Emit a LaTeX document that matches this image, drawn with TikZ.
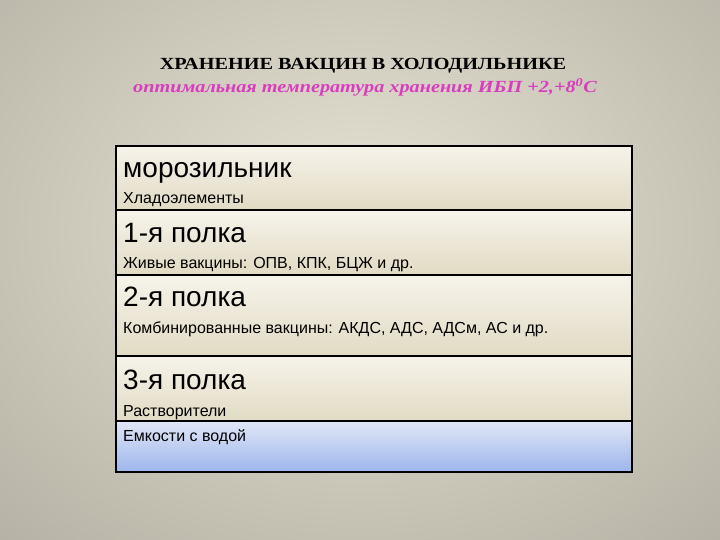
\documentclass[tikz,border=0pt]{standalone}
\usepackage{fontspec}
\setmainfont{Liberation Sans}
\newfontfamily\titlefont[FakeStretch=1.19]{Liberation Serif}
\definecolor{bgin}{RGB}{232,228,212}
\definecolor{bgout}{RGB}{160,158,146}
\definecolor{cellt}{RGB}{246,243,234}
\definecolor{cellb}{RGB}{225,219,196}
\definecolor{bluet}{RGB}{224,230,246}
\definecolor{blueb}{RGB}{158,182,236}
\definecolor{pinkc}{RGB}{218,60,192}
\begin{document}
\begin{tikzpicture}[x=1pt,y=-1pt,
  big/.style={anchor=base west, inner sep=0pt, font=\fontsize{28}{28}\selectfont},
  small/.style={anchor=base west, inner sep=0pt, font=\fontsize{16}{16}\selectfont},
  cell/.style={top color=cellt, bottom color=cellb},
  divider/.style={line width=1.5pt, black}]
\useasboundingbox (0,0) rectangle (720,540);
\begin{scope}
\clip (0,0) rectangle (720,540);
\fill[bgout] (0,0) rectangle (720,540);
\shade[inner color=bgin, outer color=bgout] (360,230) ellipse (760 and 600);
\end{scope}
% title
\node[font=\titlefont\bfseries\fontsize{17}{17}\selectfont, anchor=base, inner sep=0pt] (title) at (363,70) {ХРАНЕНИЕ ВАКЦИН В ХОЛОДИЛЬНИКЕ};
\node[font=\titlefont\bfseries\itshape\fontsize{17}{17}\selectfont, text=pinkc, anchor=base, inner sep=0pt] (subtitle) at (365,93) {оптимальная температура хранения ИБП +2,+8\textsuperscript{0}С};
% cells
\shade[cell] (116,146) rectangle (632,210);
\shade[cell] (116,210) rectangle (632,275);
\shade[cell] (116,275) rectangle (632,356);
\shade[cell] (116,356) rectangle (632,421);
\shade[top color=bluet, bottom color=blueb] (116,421) rectangle (632,472);
\draw[divider] (116,210) -- (632,210);
\draw[divider] (116,275) -- (632,275);
\draw[divider] (116,356) -- (632,356);
\draw[divider] (116,421) -- (632,421);
\draw[line width=2.2pt, black] (116,146) rectangle (632,472);
% texts
\node[big] (t1) at (123,178) {морозильник};
\node[small] (s1) at (123,204) {Хладоэлементы};
\node[big] (t2) at (123,242) {1-я полка};
\node[small] (s2) at (123,268) {Живые вакцины: ОПВ, КПК, БЦЖ и др.};
\node[big] (t3) at (123,306) {2-я полка};
\node[small] (s3) at (123,333) {Комбинированные вакцины: АКДС, АДС, АДСм, АС и др.};
\node[big] (t4) at (123,389) {3-я полка};
\node[small] (s4) at (123,416) {Растворители};
\node[small] (s5) at (123,441) {Емкости с водой};
\end{tikzpicture}
\end{document}
